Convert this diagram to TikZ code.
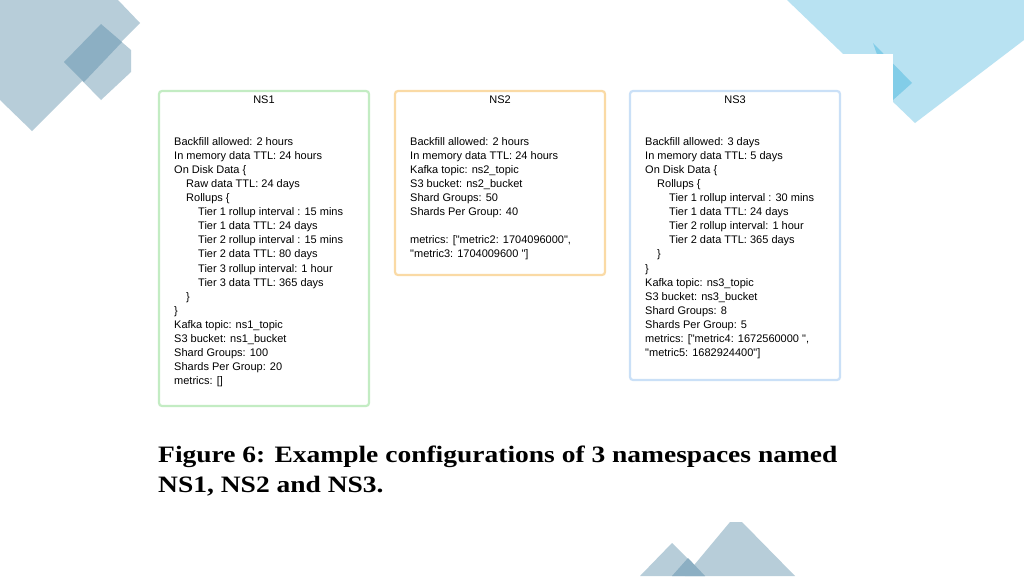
\documentclass[tikz,border=0pt]{standalone}
\usepackage{fontspec}
\setmainfont{Liberation Serif}
\newfontfamily\boxfont{Liberation Sans}
\begin{document}
\begin{tikzpicture}[x=1pt,y=-1pt,
  cfg/.style={draw,line width=2.2pt,rounded corners=3pt},
  body/.style={anchor=north west,align=left,inner sep=0pt,font=\boxfont\fontsize{11}{14.1}\selectfont},
  ttl/.style={font=\boxfont\fontsize{11}{13}\selectfont}]
\definecolor{deco}{RGB}{183,205,217}
\definecolor{decod}{RGB}{140,175,195}
\definecolor{lb}{RGB}{184,226,242}
\definecolor{lbd}{RGB}{130,205,232}
\definecolor{gb}{RGB}{195,236,195}
\definecolor{ob}{RGB}{250,218,165}
\definecolor{bb}{RGB}{202,224,247}
\useasboundingbox (0,0) rectangle (1024,576);
\fill[white] (0,0) rectangle (1024,576);
% decorations
\fill[deco] (0,0) -- (118,0) -- (140,23) -- (32,131) -- (0,100) -- cycle;
\fill[deco] (101,24) -- (131,50) -- (131,72) -- (101,100) -- (64,62) -- cycle;
\fill[decod] (101,24) -- (122,42) -- (84,82) -- (64,62) -- cycle;
\fill[lb] (787,0) -- (1024,0) -- (1024,40) -- (915,123) -- cycle;
\fill[lbd] (873,43) -- (912,83) -- (893,100) -- cycle;
\fill[white] (843,54) rectangle (893,300);
\fill[deco] (640,576) -- (672,543) -- (705,576) -- cycle;
\fill[deco] (685,576) -- (730,522) -- (742,522) -- (795,576) -- cycle;
\fill[decod] (672,576) -- (688,558) -- (705,576) -- cycle;
% boxes
\draw[cfg,gb] (159,91) rectangle (369,406);
\draw[cfg,ob] (395,91) rectangle (605,275);
\draw[cfg,bb] (630,91) rectangle (840,380);
\node[ttl] (t1) at (264,100) {NS1};
\node[ttl] (t2) at (500,100) {NS2};
\node[ttl] (t3) at (735,100) {NS3};
\def\ia{\hspace*{12pt}}\def\ib{\hspace*{24pt}}
\node[body] (b1) at (174,137) {Backfill allowed: 2 hours\\In memory data TTL: 24 hours\\On Disk Data \{\\\ia Raw data TTL: 24 days\\\ia Rollups \{\\\ib Tier 1 rollup interval : 15 mins\\\ib Tier 1 data TTL: 24 days\\\ib Tier 2 rollup interval : 15 mins\\\ib Tier 2 data TTL: 80 days\\\ib Tier 3 rollup interval: 1 hour\\\ib Tier 3 data TTL: 365 days\\\ia \}\\\}\\Kafka topic: ns1\_topic\\S3 bucket: ns1\_bucket\\Shard Groups: 100\\Shards Per Group: 20\\metrics: []};
\node[body] (b2) at (410,137) {Backfill allowed: 2 hours\\In memory data TTL: 24 hours\\Kafka topic: ns2\_topic\\S3 bucket: ns2\_bucket\\Shard Groups: 50\\Shards Per Group: 40\\[14.1pt]metrics: ["metric2: 1704096000",\\"metric3: 1704009600 "]};
\node[body] (b3) at (645,137) {Backfill allowed: 3 days\\In memory data TTL: 5 days\\On Disk Data \{\\\ia Rollups \{\\\ib Tier 1 rollup interval : 30 mins\\\ib Tier 1 data TTL: 24 days\\\ib Tier 2 rollup interval: 1 hour\\\ib Tier 2 data TTL: 365 days\\\ia \}\\\}\\Kafka topic: ns3\_topic\\S3 bucket: ns3\_bucket\\Shard Groups: 8\\Shards Per Group: 5\\metrics: ["metric4: 1672560000 ",\\"metric5: 1682924400"]};
\node[anchor=north west,align=left,inner sep=0pt,xscale=1.17,font=\bfseries\fontsize{23.5}{30}\selectfont] (cap) at (158,446) {Figure 6: Example configurations of 3 namespaces named\\NS1, NS2 and NS3.};
\end{tikzpicture}
\end{document}
